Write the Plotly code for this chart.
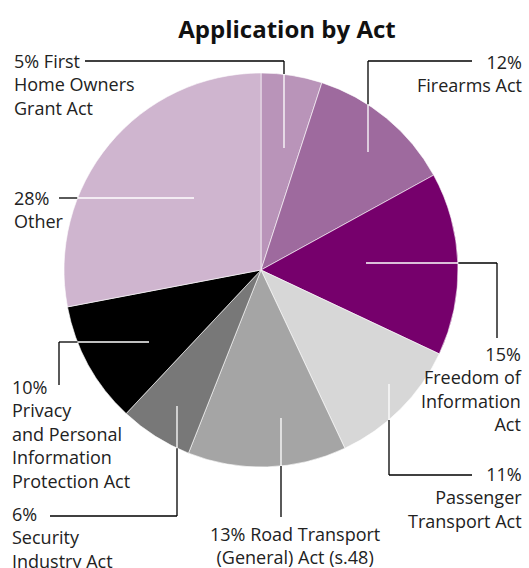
import plotly.graph_objects as go

# ---- data ----
categories = ["First Home Owners Grant Act", "Firearms Act", "Freedom of Information Act",
              "Passenger Transport Act", "Road Transport (General) Act (s.48)",
              "Security Industry Act", "Privacy and Personal Information Protection Act", "Other"]
values = [5, 12, 15, 11, 13, 6, 10, 28]
label_texts = ["5% First<br>Home Owners<br>Grant Act", "12%<br>Firearms Act",
               "15%<br>Freedom of<br>Information<br>Act", "11%<br>Passenger<br>Transport Act",
               "13% Road Transport<br>(General) Act (s.48)", "6%<br>Security<br>Industry Act",
               "10%<br>Privacy<br>and Personal<br>Information<br>Protection Act", "28%<br>Other"]

# ---- style / layout ----
W, H = 529, 568
colors = ["#b994b9", "#9e6a9e", "#76006c", "#d7d7d7", "#a5a5a5", "#787878", "#000000", "#cfb5cf"]
CX, CY, R = 261, 270, 197
FONT = "Open Sans"
FS = 18

# label anchor (px), alignment
label_pos = [
    (12, 47, "left"), (524, 48, "right"), (524, 340, "right"), (524, 460, "right"),
    (295, 520, "center"), (10, 500, "left"), (10, 373, "left"), (12, 184, "left"),
]
# leader polylines in px
leaders = [
    [(284, 148), (284, 61), (85, 61)],
    [(368, 152), (368, 61), (472, 61)],
    [(366, 263), (497, 263), (497, 338)],
    [(389, 384), (389, 475), (472, 475)],
    [(281, 418), (281, 517)],
    [(177, 406), (177, 516), (50, 516)],
    [(149, 342), (59, 342), (59, 385)],
    [(194, 198), (59, 198)],
]

def px(x, y):
    return x / W, 1 - y / H

def inside(p):
    return (p[0] - CX) ** 2 + (p[1] - CY) ** 2 < R ** 2

shapes = []
def add_seg(a, b, color):
    (x0, y0), (x1, y1) = px(*a), px(*b)
    shapes.append(dict(type="line", xref="paper", yref="paper", x0=x0, y0=y0, x1=x1, y1=y1,
                       line=dict(color=color, width=1.3)))

for poly in leaders:
    for a, b in zip(poly[:-1], poly[1:]):
        n = 200
        pts = [(a[0] + (b[0] - a[0]) * t / n, a[1] + (b[1] - a[1]) * t / n) for t in range(n + 1)]
        start = pts[0]
        state = inside(start)
        for p in pts[1:]:
            s = inside(p)
            if s != state:
                add_seg(start, p, "white" if state else "black")
                start, state = p, s
        add_seg(start, pts[-1], "white" if state else "black")

annotations = []
for txt, (x, y, al) in zip(label_texts, label_pos):
    xx, yy = px(x, y)
    annotations.append(dict(text=txt, x=xx, y=yy, xref="paper", yref="paper", showarrow=False,
                            xanchor=al, yanchor="top", align=al,
                            font=dict(family=FONT, size=FS, color="#222222")))

fig = go.Figure(go.Pie(
    labels=categories, values=values, sort=False, direction="clockwise", rotation=0,
    marker=dict(colors=colors, line=dict(color="white", width=0.6)),
    textinfo="none", hoverinfo="label+percent",
    domain=dict(x=[(CX - R) / W, (CX + R) / W], y=[1 - (CY + R) / H, 1 - (CY - R) / H]),
))

fig.update_layout(
    width=W, height=H, margin=dict(l=0, r=0, t=0, b=0),
    paper_bgcolor="white", showlegend=False,
    title=dict(text="<b>Application by Act</b>", x=287 / W, xanchor="center", y=1 - 30 / H,
               yanchor="middle", font=dict(family=FONT, size=24, color="#111111")),
    shapes=shapes, annotations=annotations,
)
fig.write_html("out.html", config={"displayModeBar": False},
               post_script="document.body.style.margin='0';document.body.style.overflow='hidden';")
